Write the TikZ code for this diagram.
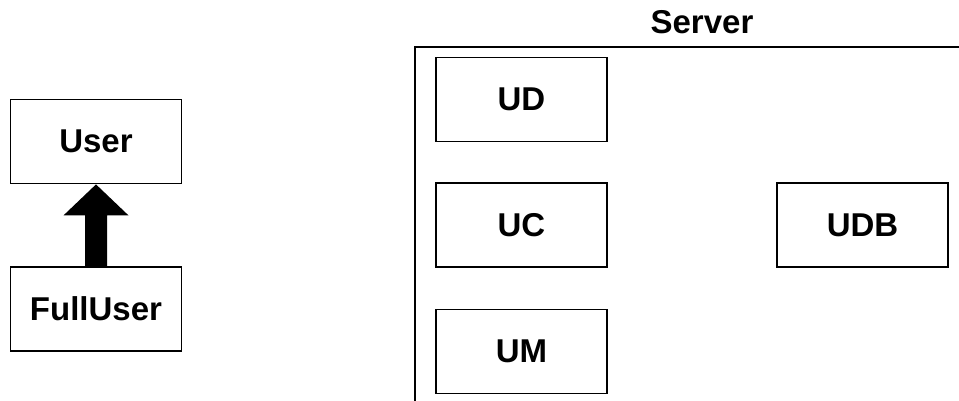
\documentclass[tikz,border=0pt]{standalone}
\usepackage{fontspec}
\setmainfont{Liberation Sans}
\usetikzlibrary{calc}
\begin{document}
\begin{tikzpicture}[x=1pt,y=-1pt,
  box/.style={draw=black,line width=1.8pt,minimum width=171pt,minimum height=84pt,inner sep=0pt,
    font=\fontsize{33}{40}\selectfont\bfseries},
  lbl/.style={font=\fontsize{33}{40}\selectfont\bfseries,inner sep=0pt}]
\useasboundingbox (0,0) rectangle (959,401);
% class boxes
\node[box] (user) at (96,141.5) {User};
\node[box] (full) at (96,309) {FullUser};
% inheritance block arrow
\fill (user.south) -- ++(32.5,31) -- ++(-21.5,0) -- ($(full.north)+(11,0)$)
  -- ($(full.north)+(-11,0)$) -- ($(user.south)+(-11,31)$) -- ++(-21.5,0) -- cycle;
% server frame
\coordinate (frTR) at (959,47);
\coordinate (frTL) at (415,47);
\coordinate (frBL) at (415,401);
\draw[line width=2.2pt] (frTR) -- (frTL) -- (frBL);
\node[lbl] (server) at (702,22) {Server};
% server components
\node[box] (ud) at (521.5,99.5) {UD};
\node[box] (uc) at (521.5,225) {UC};
\node[box] (um) at (521.5,351.5) {UM};
\node[box] (udb) at (862.5,225) {UDB};
\end{tikzpicture}
\end{document}
